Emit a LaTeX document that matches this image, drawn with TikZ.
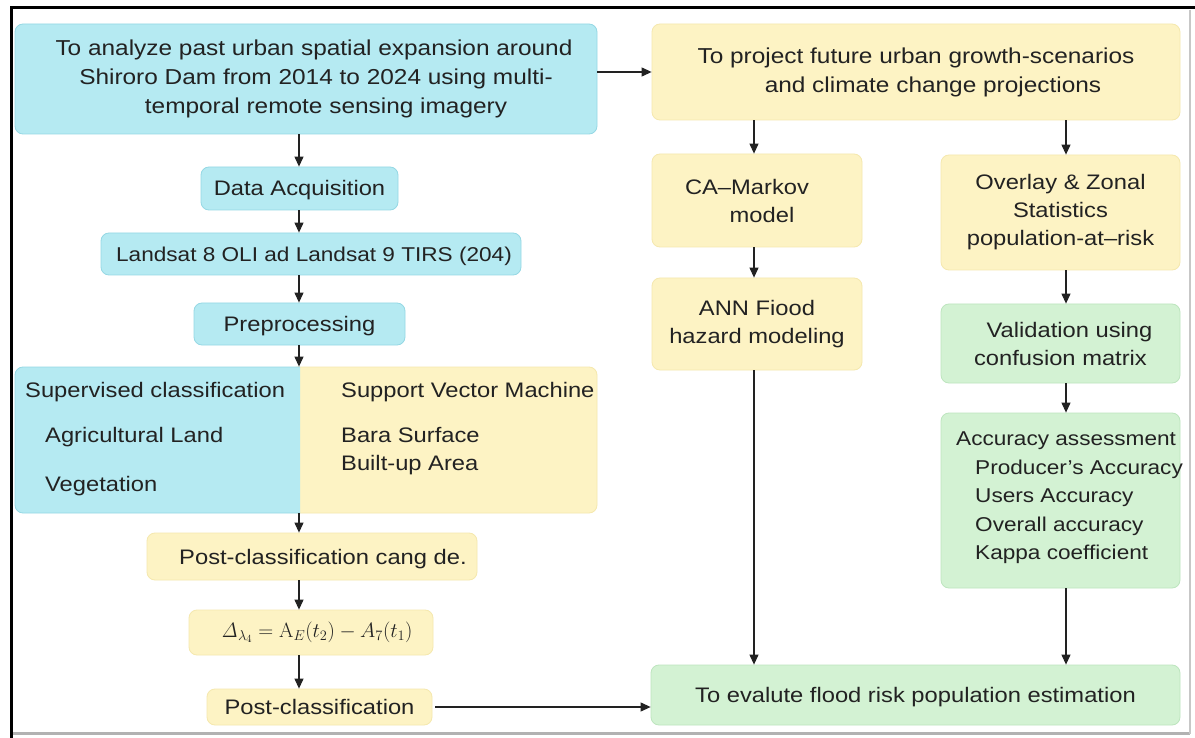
\documentclass[tikz,border=0pt]{standalone}
\usepackage[no-math]{fontspec}
\setmainfont{Liberation Sans}[FakeStretch=1.13]
\usetikzlibrary{arrows.meta,calc}
\definecolor{bfill}{HTML}{B5EAF2}
\definecolor{bline}{HTML}{95D8E4}
\definecolor{yfill}{HTML}{FDF3C4}
\definecolor{yline}{HTML}{F5E8AE}
\definecolor{gfill}{HTML}{D3F2D3}
\definecolor{gline}{HTML}{BDE5BE}
\definecolor{ink}{HTML}{222222}
\newcommand{\fs}{\fontsize{21}{28}\selectfont}
\newcommand{\fsl}{\fontsize{21.6}{29}\selectfont}
\newcommand{\fss}{\fontsize{20}{28}\selectfont}
\begin{document}
\begin{tikzpicture}[x=1pt,y=-1pt,
  base/.style={rounded corners=8pt, line width=0.8pt, inner sep=0pt, align=center, font=\fs, text=ink},
  bbox/.style={base, draw=bline, fill=bfill},
  ybox/.style={base, draw=yline, fill=yfill},
  gbox/.style={base, draw=gline, fill=gfill},
  one/.style={text height=15pt, text depth=0pt},
  txt/.style={inner sep=0pt, font=\fs, text=ink, anchor=base west},
  arr/.style={draw=ink, line width=1.1pt, -{Triangle[length=10pt,width=9pt]}},
]
\useasboundingbox (0,0) rectangle (1195,738);
\fill[white] (0,0) rectangle (1195,738);
% frame
\draw[line width=3pt, black] (10,8) -- (1195,8);
\draw[line width=3pt, black] (11,8) -- (11,738);
\draw[line width=2.5pt, black!30] (13,733.5) -- (1190,733.5);
\draw[line width=2.5pt, black!22] (1190,10) -- (1190,733.5);

% left column
\node[bbox, font=\fsl, minimum width=582pt, minimum height=110pt] (A) at (306,79)
  {\hspace*{16pt}To analyze past urban spatial expansion around\\
   \hspace*{20pt}Shiroro Dam from 2014 to 2024 using multi-\\
   \hspace*{40pt}temporal remote sensing imagery};
\node[bbox, one, minimum width=197pt, minimum height=43pt] (B) at (299.5,188.5) {Data Acquisition};
\node[bbox, one, font=\fss, minimum width=420pt, minimum height=42pt] (C) at (311,254) {\hspace*{6pt}Landsat 8 OLI ad Landsat 9 TIRS (204)};
\node[bbox, one, minimum width=211pt, minimum height=42pt] (D) at (299.5,324) {Preprocessing};

\node[ybox, minimum width=307pt, minimum height=146pt] (E2) at (443.5,440) {};
\begin{scope}
  \clip (5,355) rectangle (300,525);
  \node[bbox, minimum width=305pt, minimum height=146pt] (E1) at (167.5,440) {};
\end{scope}
\node[txt] (e1a) at (25,397) {Supervised classification};
\node[txt] (e1b) at (45,442) {Agricultural Land};
\node[txt] (e1c) at (45,491) {Vegetation};
\node[txt] (e2a) at (341,397) {Support Vector Machine};
\node[txt] (e2b) at (341,442) {Bara Surface};
\node[txt] (e2c) at (341,470) {Built-up Area};

\node[ybox, one, minimum width=330pt, minimum height=47pt] (F) at (312,556.5) {\hspace*{22pt}Post-classification cang de.};
\node[ybox, minimum width=244pt, minimum height=45pt] (G) at (311,632.5)
  {\hspace*{12pt}$\mathit{\Delta}_{\lambda_4}=\mathrm{A}_{E}(t_2)-A_7(t_1)$};
\node[ybox, one, minimum width=225pt, minimum height=36pt] (H) at (319.5,707) {Post-classification};

% right part
\node[ybox, font=\fsl, minimum width=528pt, minimum height=96pt] (P) at (916,72)
  {To project future urban growth-scenarios\\\hspace*{34pt}and climate change projections};
\node[ybox, minimum width=210pt, minimum height=93pt] (CA) at (757,200.5) {CA–Markov\hspace*{20pt}\\\hspace*{10pt}model};
\node[ybox, minimum width=210pt, minimum height=92pt] (ANN) at (757,324) {ANN Fiood\\hazard modeling};
\node[ybox, minimum width=239pt, minimum height=115pt] (Ov) at (1060.5,212.5)
  {Overlay \& Zonal\\Statistics\\population-at–risk};
\node[gbox, minimum width=239pt, minimum height=79pt] (Val) at (1060.5,343.5)
  {\hspace*{18pt}Validation using\\confusion matrix};
\node[gbox, minimum width=239pt, minimum height=175pt] (Acc) at (1060.5,500.5) {};
\node[txt, font=\fss] (acc1) at (956,445) {Accuracy assessment};
\node[txt, font=\fss] (acc2) at (975,474) {Producer’s Accuracy};
\node[txt, font=\fss] (acc3) at (975,502) {Users Accuracy};
\node[txt, font=\fss] (acc4) at (975,531) {Overall accuracy};
\node[txt, font=\fss] (acc5) at (975,559) {Kappa coefficient};
\node[gbox, one, minimum width=529pt, minimum height=60pt] (Fin) at (915.5,695)
  {To evalute flood risk population estimation};

% connectors
\coordinate (xl) at (299,0);
\coordinate (xm) at (754,0);
\coordinate (xr) at (1066,0);
\draw[arr] (A.south -| xl) -- (B.north -| xl);
\draw[arr] (B.south -| xl) -- (C.north -| xl);
\draw[arr] (C.south -| xl) -- (D.north -| xl);
\draw[arr] (D.south -| xl) -- (E2.north -| xl);
\draw[arr] (E2.south -| xl) -- (F.north -| xl);
\draw[arr] (F.south -| xl) -- (G.north -| xl);
\draw[arr] (G.south -| xl) -- (H.north -| xl);
\draw[arr] (A.east |- P.west) -- (P.west);
\draw[arr] (P.south -| xm) -- (CA.north -| xm);
\draw[arr] (P.south -| xr) -- (Ov.north -| xr);
\draw[arr] (CA.south -| xm) -- (ANN.north -| xm);
\draw[arr] (ANN.south -| xm) -- (Fin.north -| xm);
\draw[arr] (Ov.south -| xr) -- (Val.north -| xr);
\draw[arr] (Val.south -| xr) -- (Acc.north -| xr);
\draw[arr] (Acc.south -| xr) -- (Fin.north -| xr);
\draw[arr] ([xshift=3pt]H.east) -- (Fin.west |- H.east);
\end{tikzpicture}
\end{document}
